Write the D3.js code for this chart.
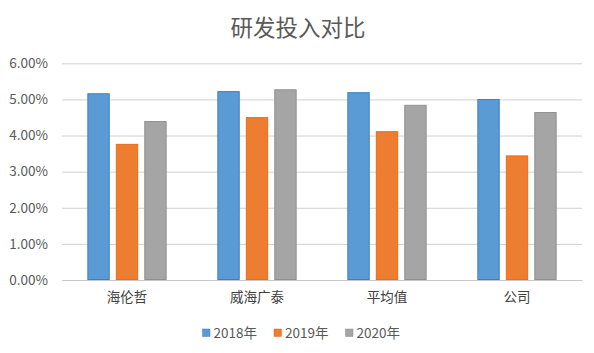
<!DOCTYPE html>
<html>
<head>
<meta charset="utf-8">
<script src="https://cdn.jsdelivr.net/npm/d3@7"></script>
<style>
  body { margin: 0; background: white; }
  text { font-family: "Noto Sans CJK SC", "Noto Sans", sans-serif; }
</style>
</head>
<body>
<div id="container"></div>
<script>
let w = 594;
let h = 353;

// data
let categories = ["海伦哲", "威海广泰", "平均值", "公司"];
let seriesNames = ["2018年", "2019年", "2020年"];
let values2018 = [0.0517, 0.0523, 0.0520, 0.0501];
let values2019 = [0.0377, 0.0451, 0.0412, 0.0345];
let values2020 = [0.0440, 0.0528, 0.0485, 0.0465];
let yTicks = [0, 0.01, 0.02, 0.03, 0.04, 0.05, 0.06];
let colors = ["#5B9BD5", "#ED7D31", "#A5A5A5"];
let strokes = ["#3C7FC0", "#F06A10", "#8F8F8F"];

let allSeries = [values2018, values2019, values2020];

let viz = d3.select("#container")
  .append("svg")
    .attr("width", w)
    .attr("height", h)
    .style("background-color", "white");

let plotLeft = 62, plotRight = 582, plotTop = 63.3, plotBottom = 280;

let xScale = d3.scaleBand().domain(categories).range([plotLeft, plotRight])
  .paddingInner(0.39).paddingOuter(0.195);
let xInner = d3.scaleBand().domain(seriesNames).range([0, xScale.bandwidth()])
  .paddingInner(0.214).paddingOuter(0);
let yScale = d3.scaleLinear().domain([0, 0.06]).range([plotBottom, plotTop]);

// title
viz.append("text")
  .attr("x", w / 2 + 1)
  .attr("y", 36)
  .attr("text-anchor", "middle")
  .attr("font-size", 22.5)
  .attr("fill", "#595959")
  .text("研发投入对比");

// gridlines + y labels
let yAxis = d3.axisLeft(yScale)
  .tickValues(yTicks)
  .tickSize(-(plotRight - plotLeft))
  .tickPadding(14)
  .tickFormat(d3.format(".2%"));
let yAxisG = viz.append("g").attr("class", "yaxis")
  .attr("transform", "translate(" + plotLeft + ",0)")
  .call(yAxis);
yAxisG.select(".domain").remove();
yAxisG.selectAll("line").attr("stroke", "#D0D0D0").attr("stroke-width", 1);
yAxisG.selectAll("text")
  .attr("fill", "#595959")
  .attr("font-size", 13.5)
  .style("font-family", "'Noto Sans CJK SC', sans-serif");

// bars
allSeries.forEach(function(vals, si) {
  viz.append("g").selectAll("rect")
    .data(vals)
    .enter()
    .append("rect")
      .attr("x", function(d, i) { return xScale(categories[i]) + xInner(seriesNames[si]) + 0.5; })
      .attr("y", function(d) { return yScale(d) + 0.5; })
      .attr("width", xInner.bandwidth() - 1)
      .attr("height", function(d) { return yScale(0) - yScale(d) - 1; })
      .attr("fill", colors[si])
      .attr("stroke", strokes[si])
      .attr("stroke-width", 1);
});

// x axis line + labels
let xAxis = d3.axisBottom(xScale).tickSize(0).tickPadding(12);
let xAxisG = viz.append("g").attr("class", "xaxis")
  .attr("transform", "translate(0," + plotBottom + ")")
  .call(xAxis);
xAxisG.select(".domain").attr("stroke", "#C8C8C8");
xAxisG.selectAll("text")
  .attr("fill", "#404040")
  .attr("font-size", 13.5)
  .style("font-family", "'Noto Sans CJK SC', sans-serif");

// legend
let legendX = [202.5, 274, 345.5];
let legend = viz.append("g").selectAll("g")
  .data(seriesNames)
  .enter()
  .append("g")
    .attr("transform", function(d, i) { return "translate(" + legendX[i] + ",330)"; });
legend.append("rect")
  .attr("x", 0).attr("y", -1)
  .attr("width", 7.5).attr("height", 7.5)
  .attr("fill", function(d, i) { return colors[i]; })
  .attr("stroke", function(d, i) { return strokes[i]; })
  .attr("stroke-width", 0.5);
legend.append("text")
  .attr("x", 11)
  .attr("y", 8)
  .attr("font-size", 13.5)
  .attr("fill", "#595959")
  .text(function(d) { return d; });
</script>
</body>
</html>
